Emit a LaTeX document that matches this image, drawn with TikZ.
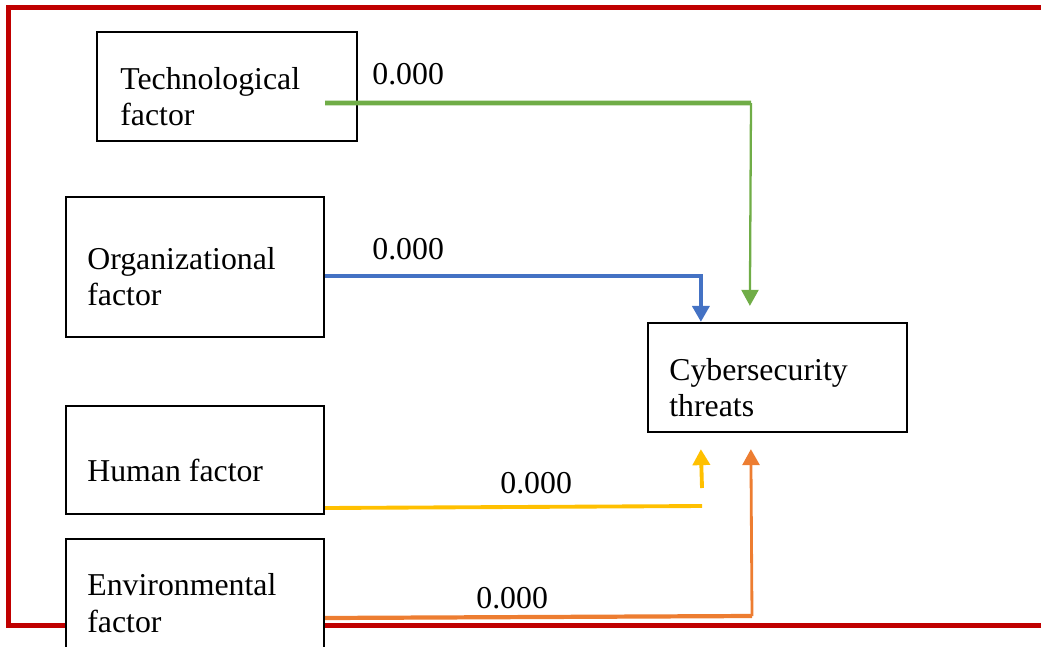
\documentclass[tikz,border=0pt]{standalone}
\usepackage{fontspec}
\setmainfont{Liberation Serif}
\usetikzlibrary{arrows.meta,calc}
\definecolor{frame}{HTML}{C00000}
\definecolor{cgreen}{HTML}{70AD47}
\definecolor{cblue}{HTML}{4472C4}
\definecolor{cyellow}{HTML}{FFC000}
\definecolor{corange}{HTML}{ED7D31}
\begin{document}
\begin{tikzpicture}[x=0.02cm,y=-0.02cm,
  box/.style={draw=black,line width=1.3pt,fill=white,rectangle,inner sep=0pt},
  txt/.style={anchor=base west,inner sep=0pt,font=\fontsize{18.1}{21}\selectfont},
  tipb/.style={-{Triangle[width=0.34cm,length=0.32cm]}},
  link/.style={line width=2.2pt},
  thin/.style={line width=1.3pt}]
\useasboundingbox (0,0) rectangle (1041,646);
% outer frame
\draw[frame,line width=0.1cm] (8.5,7.5) rectangle (1060,625.5);
% factor boxes
\node[box,minimum width=5.2cm,minimum height=2.18cm] (tech) at (227,86.5) {};
\node[box,minimum width=5.16cm,minimum height=2.8cm] (org) at (195,267) {};
\node[box,minimum width=5.16cm,minimum height=2.16cm] (human) at (195,460) {};
\node[box,minimum width=5.16cm,minimum height=3.22cm] (env) at (195,619.5) {};
\node[box,minimum width=5.18cm,minimum height=2.18cm] (cyber) at (777.5,377.5) {};
% box texts
\node[txt] (techA) at (120,89) {Technological};
\node[txt] (techB) at (120,125) {factor};
\node[txt] (orgA) at (87,269) {Organizational};
\node[txt] (orgB) at (87,305) {factor};
\node[txt] (humA) at (87,481) {Human factor};
\node[txt] (envA) at (87,595) {Environmental};
\node[txt] (envB) at (87,632) {factor};
\node[txt] (cybA) at (669,380) {Cybersecurity};
\node[txt] (cybB) at (669,416) {threats};
% technological -> threats
\coordinate (gc) at (751,103);
\draw[cgreen,line width=2.6pt] ($(tech.east)+(-33,16.5)$) -- (gc);
\draw[cgreen,thin,tipb] (gc) -- ($(cyber.north west)+(103,-16)$);
% organizational -> threats
\draw[cblue,link,tipb] ($(org.east)+(0,9)$) -| ($(cyber.north west)+(54,0)$);
% human -> threats
\coordinate (yc) at (702,506);
\coordinate (yf) at (702,488);
\draw[cyellow,link] ($(human.east)+(0,48)$) -- (yc);
\draw[cyellow,link,tipb] (yf) -- ($(cyber.south west)+(54,16)$);
% environmental -> threats
\coordinate (oc) at (752,616);
\draw[corange,line width=2.4pt] ($(env.east)+(0,-1.5)$) -- (oc);
\draw[corange,line width=1.6pt,tipb] (oc) -- ($(cyber.south west)+(104,16)$);
% path coefficients
\node[txt] (p1) at (372,84) {0.000};
\node[txt] (p2) at (372,259) {0.000};
\node[txt] (p3) at (500,493) {0.000};
\node[txt] (p4) at (476,608) {0.000};
\end{tikzpicture}
\end{document}
